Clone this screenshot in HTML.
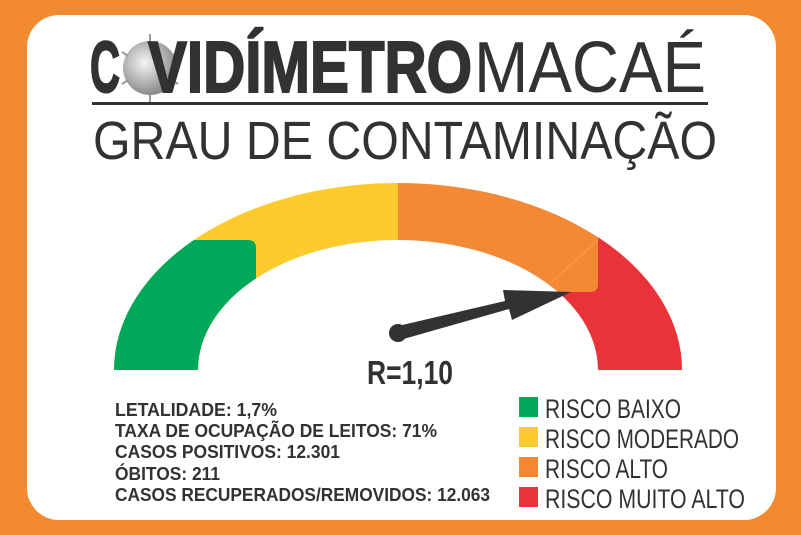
<!DOCTYPE html>
<html><head><meta charset="utf-8"><style>
html,body{margin:0;padding:0;background:#f28a30;}
svg{display:block}
text{font-family:"Liberation Sans",sans-serif;}
</style></head><body>
<svg width="801" height="535" viewBox="0 0 801 535" xmlns="http://www.w3.org/2000/svg">
<defs>
<clipPath id="ann"><path fill-rule="evenodd" clip-rule="evenodd" d="M114,370 A284,187 0 0 1 682,370 L598,370 A200,130 0 0 0 198,370 Z"/></clipPath>
<radialGradient id="vg" cx="0.4" cy="0.4" r="0.6"><stop offset="0" stop-color="#f4f4f4"/><stop offset="1" stop-color="#8a8a8a"/></radialGradient>
</defs>
<rect x="0" y="0" width="801" height="535" fill="#f28a30"/>
<rect x="27" y="15" width="749" height="505" rx="32" fill="#fff"/>
<!-- title -->
<text x="90" y="92" font-size="72" font-weight="bold" fill="#333133" stroke="#333133" stroke-width="2" textLength="30" lengthAdjust="spacingAndGlyphs">C</text>
<circle cx="150" cy="68" r="27" fill="url(#vg)"/>
<g stroke="#999" stroke-width="2"><line x1="150" y1="34" x2="150" y2="41"/><line x1="178" y1="52" x2="172" y2="56"/><line x1="122" y1="52" x2="128" y2="56"/><line x1="150" y1="102" x2="150" y2="95"/><line x1="178" y1="84" x2="172" y2="80"/><line x1="122" y1="84" x2="128" y2="80"/></g>
<text x="148" y="92" font-size="72" font-weight="bold" fill="#333133" stroke="#333133" stroke-width="2" textLength="324" lengthAdjust="spacingAndGlyphs">VIDÍMETRO</text>
<text x="474" y="92" font-size="72" fill="#333133" textLength="232" lengthAdjust="spacingAndGlyphs">MACAÉ</text>
<rect x="92" y="102" width="616" height="3" fill="#333133"/>
<text x="93" y="159" font-size="54" fill="#333133" textLength="624" lengthAdjust="spacingAndGlyphs">GRAU DE CONTAMINAÇÃO</text>
<!-- gauge -->
<g clip-path="url(#ann)">
<rect x="100" y="170" width="300" height="210" fill="#fecb2f"/>
<rect x="398" y="170" width="300" height="210" fill="#f38935"/>
<path d="M100,240 L248,240 Q256,240 256,248 L256,380 L100,380 Z" fill="#00a859"/>
<path d="M598,170 L700,170 L700,380 L520,380 L520,292 L590,292 Q598,292 598,284 Z" fill="#e93338"/>
<line x1="541" y1="292" x2="598" y2="240" stroke="#f6a060" stroke-width="0.8"/>
</g>
<!-- needle -->
<polygon points="398,326 505,301 503,290 571,292 512,320 509,309 400,340" fill="#333133"/>
<circle cx="398" cy="333" r="9" fill="#333133"/>
<text x="367" y="384" font-size="33" font-weight="bold" fill="#333133" textLength="86" lengthAdjust="spacingAndGlyphs">R=1,10</text>
<!-- stats -->
<g font-size="18" font-weight="bold" fill="#333133">
<text x="115" y="416" textLength="162" lengthAdjust="spacingAndGlyphs">LETALIDADE: 1,7%</text>
<text x="115" y="437" textLength="322" lengthAdjust="spacingAndGlyphs">TAXA DE OCUPAÇÃO DE LEITOS: 71%</text>
<text x="115" y="458" textLength="225" lengthAdjust="spacingAndGlyphs">CASOS POSITIVOS: 12.301</text>
<text x="115" y="480" textLength="105" lengthAdjust="spacingAndGlyphs">ÓBITOS: 211</text>
<text x="115" y="501" textLength="375" lengthAdjust="spacingAndGlyphs">CASOS RECUPERADOS/REMOVIDOS: 12.063</text>
</g>
<!-- legend -->
<rect x="519" y="397" width="19" height="20" fill="#00a859"/>
<rect x="519" y="427" width="19" height="20" fill="#fecb2f"/>
<rect x="519" y="457" width="19" height="20" fill="#f38935"/>
<rect x="519" y="487" width="19" height="20" fill="#e93338"/>
<g font-size="27" fill="#333133">
<text x="545" y="418" textLength="136" lengthAdjust="spacingAndGlyphs">RISCO BAIXO</text>
<text x="545" y="448" textLength="194" lengthAdjust="spacingAndGlyphs">RISCO MODERADO</text>
<text x="545" y="478" textLength="123" lengthAdjust="spacingAndGlyphs">RISCO ALTO</text>
<text x="545" y="508" textLength="200" lengthAdjust="spacingAndGlyphs">RISCO MUITO ALTO</text>
</g>
</svg>
</body></html>
